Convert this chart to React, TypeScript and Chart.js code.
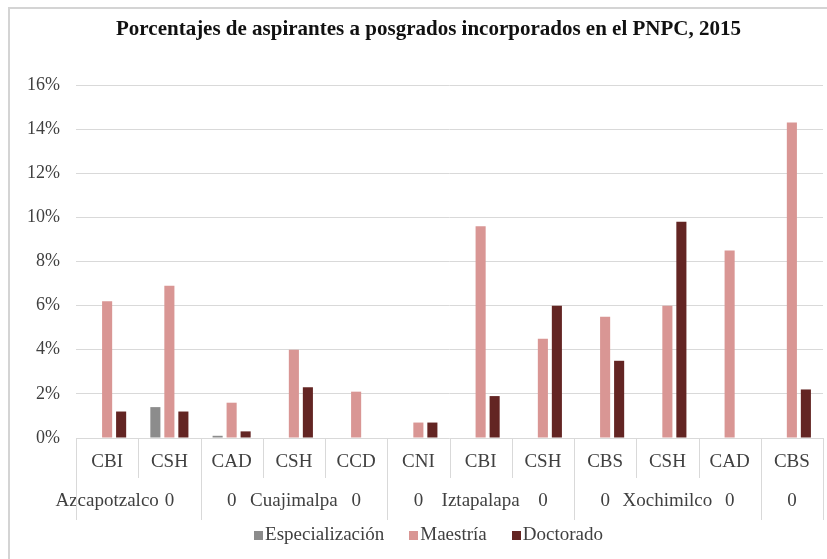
import React, { useEffect, useRef } from "react";
import { Chart, registerables } from "chart.js";

Chart.register(...registerables);

const TITLE = "Porcentajes de aspirantes a posgrados incorporados en el PNPC, 2015";
const categories = ["CBI", "CSH", "CAD", "CSH", "CCD", "CNI", "CBI", "CSH", "CBS", "CSH", "CAD", "CBS"];
const groupLabels = ["Azcapotzalco", "0", "0", "Cuajimalpa", "0", "0", "Iztapalapa", "0", "0", "Xochimilco", "0", "0"];
const groupBoundaries = [0, 2, 5, 8, 11, 12];
const especializacion = [0, 1.4, 0.1, 0, 0, 0, 0, 0, 0, 0, 0, 0];
const maestria = [6.2, 6.9, 1.6, 4.0, 2.1, 0.7, 9.6, 4.5, 5.5, 6.0, 8.5, 14.3];
const doctorado = [1.2, 1.2, 0.3, 2.3, 0, 0.7, 1.9, 6.0, 3.5, 9.8, 0, 2.2];
const seriesNames = ["Especialización", "Maestría", "Doctorado"];
const seriesColors = ["#8c8c8c", "#d99694", "#632523"];

const FONT = "'Liberation Serif', 'Times New Roman', serif";
const GRID = "#d9d9d9";
const FRAME_LEFT = 9;

const framePlugin = {
  id: "frame",
  beforeDraw(chart: any) {
    const ctx = chart.ctx;
    ctx.save();
    ctx.fillStyle = "#ffffff";
    ctx.fillRect(0, 0, chart.width, chart.height);
    ctx.strokeStyle = "#d4d4d4";
    ctx.lineWidth = 2;
    ctx.beginPath();
    ctx.moveTo(FRAME_LEFT, chart.height + 2);
    ctx.lineTo(FRAME_LEFT, 8);
    ctx.lineTo(chart.width + 2, 8);
    ctx.stroke();
    ctx.restore();
  },
  afterDraw(chart: any) {
    const ctx = chart.ctx;
    const x = chart.scales.x;
    const n = categories.length;
    const area = chart.chartArea;
    const top = area.bottom;
    // category separators in the label area
    ctx.save();
    ctx.strokeStyle = GRID;
    ctx.lineWidth = 1;
    for (let k = 0; k <= n; k++) {
      let px: number;
      if (k === 0) px = x.getPixelForValue(0) - (x.getPixelForValue(1) - x.getPixelForValue(0)) / 2;
      else if (k === n) px = x.getPixelForValue(n - 1) + (x.getPixelForValue(n - 1) - x.getPixelForValue(n - 2)) / 2;
      else px = (x.getPixelForValue(k - 1) + x.getPixelForValue(k)) / 2;
      const isGroup = groupBoundaries.includes(k);
      const bottom = isGroup ? top + 82 : top + 40;
      ctx.beginPath();
      ctx.moveTo(Math.round(px) + 0.5, top);
      ctx.lineTo(Math.round(px) + 0.5, bottom);
      ctx.stroke();
    }

    // title, centred on the chart frame
    const frameCenter = (FRAME_LEFT + area.right + 25) / 2;
    ctx.fillStyle = "#111111";
    ctx.font = `bold 21px ${FONT}`;
    ctx.textAlign = "center";
    ctx.textBaseline = "middle";
    ctx.fillText(TITLE, frameCenter, 30);

    // legend
    ctx.font = `19px ${FONT}`;
    ctx.textAlign = "left";
    const box = 9;
    const gap = 2;
    const itemGap = 25;
    const ds = chart.data.datasets;
    const widths = ds.map((d: any) => box + gap + ctx.measureText(d.label).width);
    const total = widths.reduce((a: number, b: number) => a + b, 0) + itemGap * (ds.length - 1);
    let cx = frameCenter - total / 2;
    const cy = 535;
    ds.forEach((d: any, i: number) => {
      ctx.fillStyle = d.backgroundColor;
      ctx.fillRect(Math.round(cx), cy - 4, box, box);
      ctx.fillStyle = "#404040";
      ctx.fillText(d.label, cx + box + gap, cy);
      cx += widths[i] + itemGap;
    });
    ctx.restore();
  },
};

export default function App() {
  const ref = useRef<HTMLCanvasElement | null>(null);

  useEffect(() => {
    if (!ref.current) return;
    const labels = categories.map((c, i) => [c, groupLabels[i]]);
    const data = [especializacion, maestria, doctorado];
    const chart = new Chart(ref.current, {
      type: "bar",
      data: {
        labels,
        datasets: seriesNames.map((name, i) => ({
          label: name,
          data: data[i],
          backgroundColor: seriesColors[i],
          borderWidth: 0,
          categoryPercentage: 0.675,
          barPercentage: 0.72,
        })),
      },
      options: {
        animation: false,
        responsive: false,
        maintainAspectRatio: false,
        layout: { padding: { left: 0, right: 4, top: 85, bottom: 45.5 } },
        plugins: {
          title: { display: false },
          legend: { display: false },
          tooltip: { enabled: false },
        },
        scales: {
          x: {
            offset: true,
            grid: { display: false, drawTicks: false },
            border: { display: false },
            ticks: {
              color: "#404040",
              padding: 4.5,
              maxRotation: 0,
              autoSkip: false,
              font: { family: FONT, size: 19, lineHeight: 2.05 },
            },
            afterFit(scale: any) {
              scale.height = 75.5;
            },
          },
          y: {
            min: 0,
            max: 16,
            ticks: {
              stepSize: 2,
              color: "#404040",
              padding: 16,
              font: { family: FONT, size: 18 },
              callback: (v: any) => v + "%",
            },
            grid: { color: GRID, drawTicks: false, lineWidth: 1 },
            border: { display: false },
            afterFit(scale: any) {
              scale.width = 76;
            },
          },
        },
      },
      plugins: [framePlugin],
    });
    return () => chart.destroy();
  }, []);

  return (
    <div style={{ position: "fixed", left: 0, top: 0, width: 827, height: 559 }}>
      <canvas ref={ref} width={827} height={559} style={{ display: "block" }} />
    </div>
  );
}
